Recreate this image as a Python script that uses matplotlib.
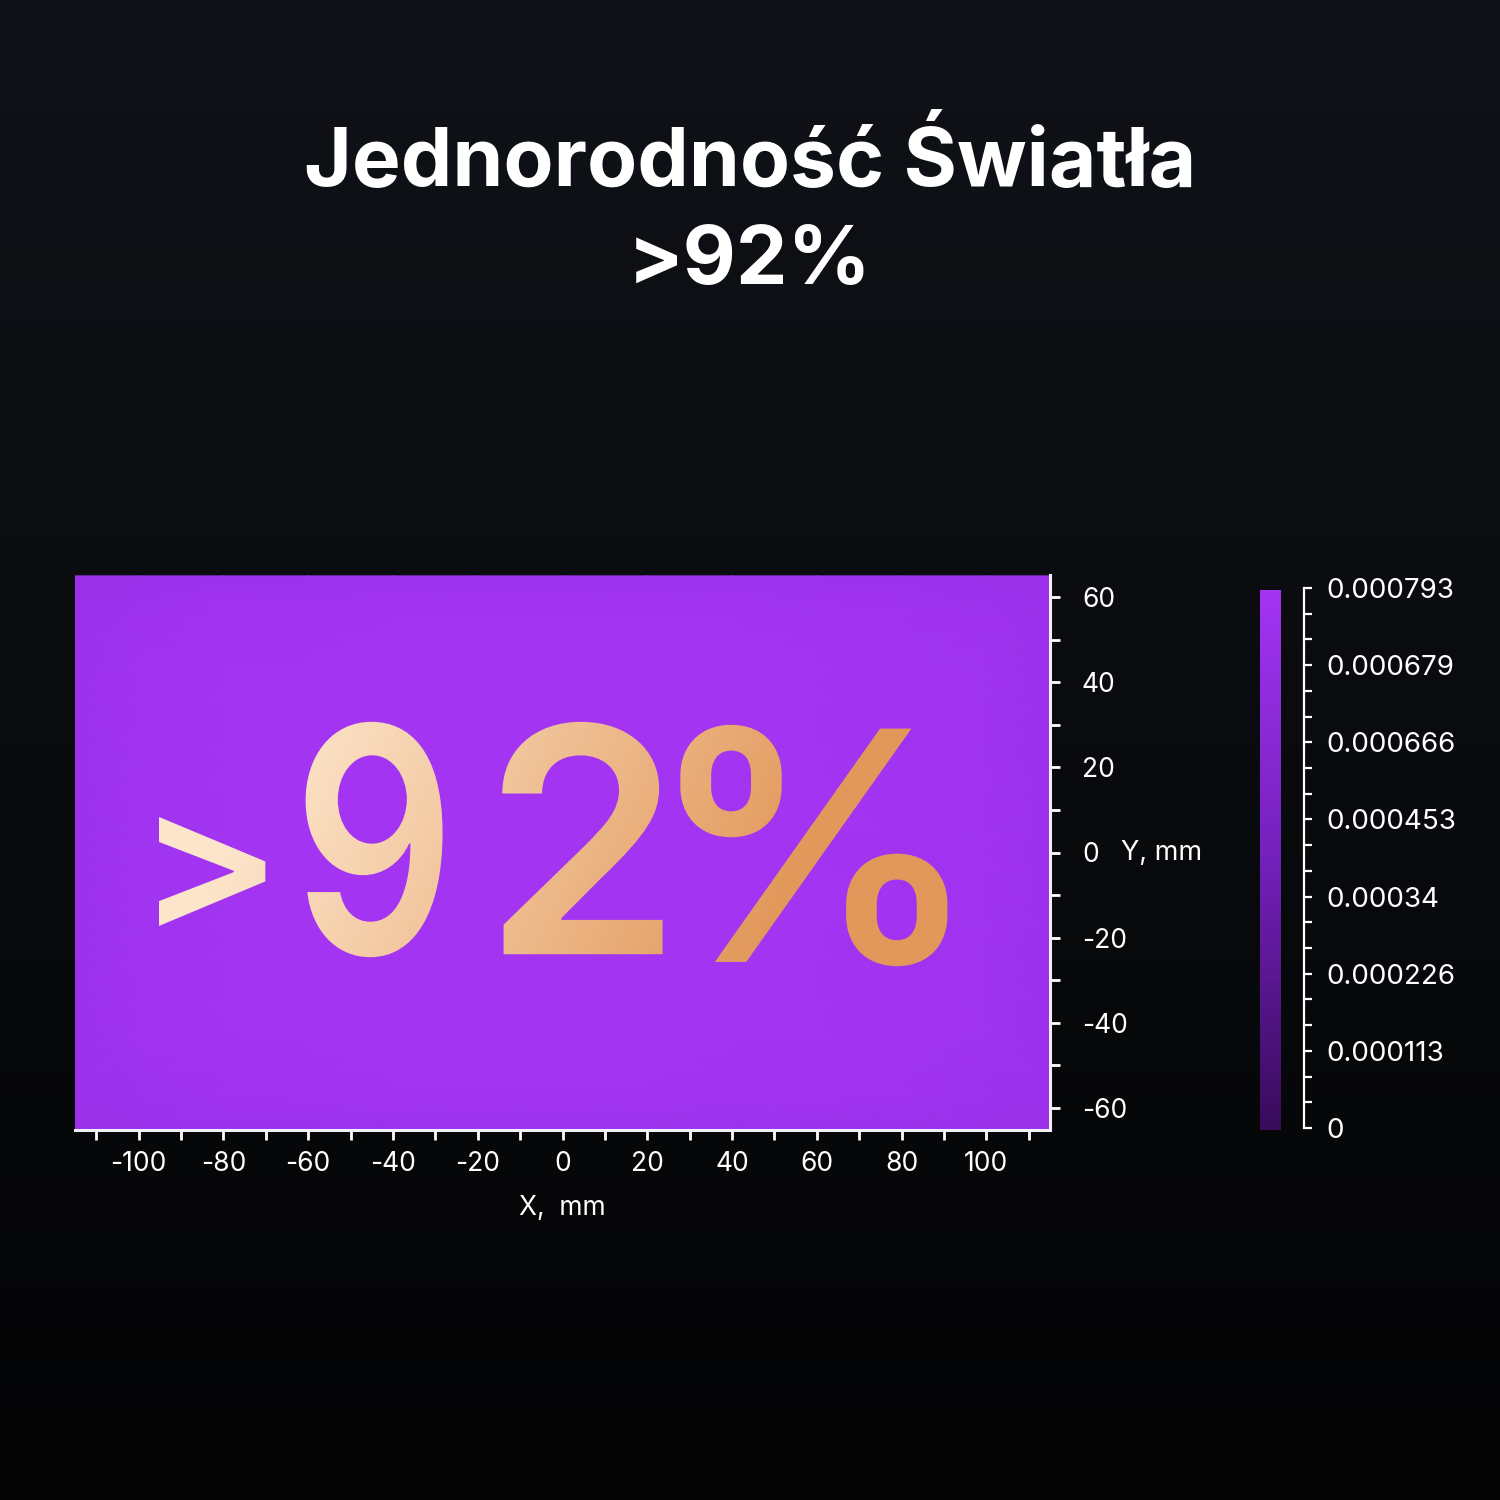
#!/usr/bin/env python3
"""Light uniformity map with a gradient headline figure."""

import numpy as np
import matplotlib as mpl

mpl.use("Agg")
import matplotlib.pyplot as plt
from matplotlib.colors import LinearSegmentedColormap, Normalize
from matplotlib.font_manager import FontProperties
from matplotlib.patches import PathPatch
from matplotlib.path import Path
from matplotlib.textpath import TextPath
from matplotlib.transforms import Affine2D

plt.rcParams["axes.unicode_minus"] = False

TITLE_LINE_1 = "Jednorodność Światła"
TITLE_LINE_2 = ">92%"
BIG_LABEL = ">92%"

grid_x = [-115, -100, -80, -60, -40, -20, 0, 20, 40, 60, 80, 100, 115]
grid_y = [65, 55, 40, 20, 0, -20, -40, -55, -65]
irradiance = [
    [0.000728, 0.000735, 0.000740, 0.000745, 0.000750, 0.000752, 0.000752, 0.000750, 0.000748, 0.000745, 0.000740, 0.000735, 0.000728],
    [0.000735, 0.000760, 0.000782, 0.000786, 0.000788, 0.000789, 0.000789, 0.000788, 0.000787, 0.000784, 0.000775, 0.000755, 0.000735],
    [0.000738, 0.000778, 0.000789, 0.000791, 0.000792, 0.000792, 0.000792, 0.000792, 0.000791, 0.000789, 0.000782, 0.000768, 0.000738],
    [0.000740, 0.000782, 0.000790, 0.000792, 0.000793, 0.000793, 0.000793, 0.000793, 0.000792, 0.000790, 0.000784, 0.000770, 0.000740],
    [0.000740, 0.000783, 0.000790, 0.000792, 0.000793, 0.000793, 0.000793, 0.000793, 0.000792, 0.000790, 0.000785, 0.000771, 0.000740],
    [0.000740, 0.000781, 0.000790, 0.000792, 0.000793, 0.000793, 0.000793, 0.000793, 0.000792, 0.000790, 0.000784, 0.000770, 0.000739],
    [0.000738, 0.000776, 0.000788, 0.000791, 0.000792, 0.000792, 0.000792, 0.000792, 0.000791, 0.000789, 0.000781, 0.000766, 0.000737],
    [0.000733, 0.000752, 0.000772, 0.000784, 0.000787, 0.000788, 0.000788, 0.000787, 0.000785, 0.000782, 0.000772, 0.000752, 0.000733],
    [0.000726, 0.000732, 0.000738, 0.000742, 0.000746, 0.000748, 0.000748, 0.000746, 0.000744, 0.000740, 0.000736, 0.000732, 0.000726],
]

x_ticks = [-100, -80, -60, -40, -20, 0, 20, 40, 60, 80, 100]
y_ticks = [-60, -40, -20, 0, 20, 40, 60]
cbar_labels = ["0", "0.000113", "0.000226", "0.00034", "0.000453",
               "0.000666", "0.000679", "0.000793"]
cbar_max = 0.000793

FG = "#ffffff"
FONT = "Inter"

# glyph boxes of the big label in data units (x0, x1, y0, y1)
GLYPH_BOXES = [(-95.3, -70.1, -17.3, 8.4),
               (-60.6, -28.3, -24.6, 30.7),
               (-14.2, 23.6, -23.9, 30.7),
               (27.8, 90.8, -26.7, 30.0)]


def draw_background(fig):
    bg = fig.add_axes([0, 0, 1, 1], zorder=-10)
    shade = np.linspace(0, 1, 256)[:, None]
    top = np.array([15, 18, 23]) / 255
    bottom = np.array([4, 4, 5]) / 255
    rgb = top + (bottom - top) * shade[..., None]
    bg.imshow(np.repeat(rgb, 4, axis=1), aspect="auto", extent=[0, 1, 0, 1])
    bg.set_axis_off()


def draw_big_label(ax):
    prop = FontProperties(family=FONT, weight="semibold")
    paths = []
    for ch, (x0, x1, y0, y1) in zip(BIG_LABEL, GLYPH_BOXES):
        tp = TextPath((0, 0), ch, size=100, prop=prop)
        bb = tp.get_extents()
        tf = (Affine2D().translate(-bb.x0, -bb.y0)
              .scale((x1 - x0) / bb.width, (y1 - y0) / bb.height)
              .translate(x0, y0))
        paths.append(tf.transform_path(tp))
    patch = PathPatch(Path.make_compound_path(*paths), facecolor="none",
                      edgecolor="none", transform=ax.transData, zorder=3)
    ax.add_patch(patch)
    gx0, gx1 = GLYPH_BOXES[0][0], GLYPH_BOXES[-1][1]
    gy0, gy1 = -27.0, 31.0
    u = np.linspace(0, 1, 400)[None, :]
    v = np.linspace(0, 1, 200)[:, None]
    t = np.clip(u * 1.35 - 0.12 + (v - 0.5) * -0.2, 0, 1)
    c0 = np.array([253, 229, 203]) / 255
    c1 = np.array([226, 152, 90]) / 255
    grad = c0 + (c1 - c0) * t[..., None]
    img = ax.imshow(grad, extent=[gx0, gx1, gy0, gy1], origin="lower",
                    aspect="auto", zorder=3, interpolation="bilinear")
    img.set_clip_path(patch)


def main():
    fig = plt.figure(figsize=(15, 15), dpi=100)
    draw_background(fig)

    fig.text(0.5, 1 - 163 / 1500, TITLE_LINE_1, ha="center", va="center",
             color=FG, fontsize=59, fontweight="bold", family=FONT)
    fig.text(0.5, 1 - 263 / 1500, TITLE_LINE_2, ha="center", va="center",
             color=FG, fontsize=59, fontweight="bold", family=FONT)

    cmap = LinearSegmentedColormap.from_list(
        "uv", ["#380b5a", "#7320bb", "#a234f2"])
    norm = Normalize(vmin=0, vmax=cbar_max)

    ax = fig.add_axes([75 / 1500, 370 / 1500, 975 / 1500, 555 / 1500])
    ax.set_facecolor("none")
    mesh = ax.pcolormesh(grid_x, grid_y, np.array(irradiance), cmap=cmap,
                         norm=norm, shading="gouraud", zorder=1)
    draw_big_label(ax)
    ax.set_xlim(-115, 115)
    ax.set_ylim(-65.2, 65.2)

    for side in ("left", "top"):
        ax.spines[side].set_visible(False)
    for side in ("right", "bottom"):
        ax.spines[side].set_color("#f4eefc")
        ax.spines[side].set_linewidth(2.2)
        ax.spines[side].set_zorder(5)
    ax.yaxis.tick_right()
    ax.set_xticks(x_ticks)
    ax.set_xticks(np.arange(-110, 111, 10), minor=True)
    ax.set_yticks(y_ticks)
    ax.set_yticks(np.arange(-60, 61, 10), minor=True)
    ax.tick_params(axis="both", which="both", colors=FG, direction="out",
                   length=7, width=2)
    ax.tick_params(axis="x", labelsize=19, pad=8)
    ax.tick_params(axis="y", labelsize=19, pad=16)
    for lab in ax.get_xticklabels() + ax.get_yticklabels():
        lab.set_family(FONT)
    ax.set_xlabel("X,  mm", color=FG, fontsize=19, family=FONT, labelpad=13)
    fig.text(1121 / 1500, 1 - 853 / 1500, "Y, mm", ha="left", va="center",
             color=FG, fontsize=19.5, family=FONT)

    # colour bar and its detached scale line
    cax = fig.add_axes([1260 / 1500, 370 / 1500, 21 / 1500, 540 / 1500])
    cbar = fig.colorbar(mesh, cax=cax, ticks=[])
    cbar.outline.set_visible(False)

    sax = fig.add_axes([1304 / 1500, 372 / 1500, 0.00001, 540 / 1500])
    sax.set_facecolor("none")
    sax.set_ylim(0, cbar_max)
    for side in ("left", "top", "bottom"):
        sax.spines[side].set_visible(False)
    sax.spines["right"].set_color(FG)
    sax.spines["right"].set_linewidth(1.6)
    sax.set_xticks([])
    sax.yaxis.tick_right()
    positions = np.linspace(0, cbar_max, len(cbar_labels))
    sax.set_yticks(positions)
    sax.set_yticklabels(cbar_labels)
    sax.set_yticks(np.linspace(0, cbar_max, 3 * (len(cbar_labels) - 1) + 1),
                   minor=True)
    sax.tick_params(axis="y", which="both", colors=FG, direction="out",
                    length=6, width=1.6, labelsize=20, pad=10)
    for lab in sax.get_yticklabels():
        lab.set_family(FONT)

    fig.savefig("out.png", dpi=100, facecolor="#0b0d10")
    plt.close(fig)


if __name__ == "__main__":
    main()
